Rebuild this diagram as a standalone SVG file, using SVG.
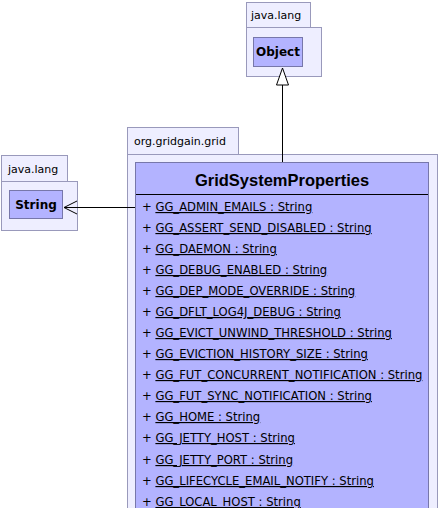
<svg xmlns="http://www.w3.org/2000/svg" width="438" height="508" viewBox="0 0 438 508">
<defs>
<style>
.pkg{fill:#eeeeff;stroke:#9999bb;stroke-width:1}
.cls{fill:#b3b3ff;stroke:#7777aa;stroke-width:1}
.pl{font-family:"DejaVu Sans",sans-serif;font-size:11px;fill:#000}
.cn{font-family:"DejaVu Sans",sans-serif;font-size:12px;font-weight:bold;fill:#000;text-anchor:middle}
.title{font-family:"Liberation Sans",Arial,sans-serif;font-size:16.5px;font-weight:bold;fill:#000;text-anchor:middle}
.attr{font-family:"DejaVu Sans",sans-serif;font-size:11.6px;fill:#000}
.u{text-decoration:underline}
.edge{stroke:#000;stroke-width:1;fill:none}
</style>
</defs>
<g id="pkg-object">
<rect class="pkg" x="246.5" y="2.5" width="64" height="25"/>
<rect class="pkg" x="246.5" y="27.5" width="75" height="49"/>
<text class="pl" x="251" y="19">java.lang</text>
</g>
<g id="Object">
<rect class="cls" x="253.5" y="37.5" width="49" height="29"/>
<text class="cn" x="278" y="56">Object</text>
</g>
<g id="pkg-string">
<rect class="pkg" x="1.5" y="155.5" width="66" height="26"/>
<rect class="pkg" x="1.5" y="181.5" width="76" height="49"/>
<text class="pl" x="8" y="173">java.lang</text>
</g>
<g id="String">
<rect class="cls" x="9.5" y="190.5" width="53" height="28"/>
<text class="cn" x="36" y="209">String</text>
</g>
<g id="pkg-grid">
<rect class="pkg" x="127.5" y="127.5" width="111" height="27"/>
<rect class="pkg" x="127.5" y="154.5" width="310" height="360"/>
<text class="pl" x="134" y="145">org.gridgain.grid</text>
</g>
<g id="GridSystemProperties">
<rect class="cls" x="135.5" y="162.5" width="293" height="360"/>
<text class="title" x="282" y="186">GridSystemProperties</text>
<line x1="136" y1="194.5" x2="428" y2="194.5" stroke="#000" stroke-width="1"/>
<text class="attr" x="142" y="211">+ <tspan class="u">GG_ADMIN_EMAILS : String </tspan></text>
<text class="attr" x="142" y="232">+ <tspan class="u">GG_ASSERT_SEND_DISABLED : String </tspan></text>
<text class="attr" x="142" y="253">+ <tspan class="u">GG_DAEMON : String </tspan></text>
<text class="attr" x="142" y="274">+ <tspan class="u">GG_DEBUG_ENABLED : String </tspan></text>
<text class="attr" x="142" y="295">+ <tspan class="u">GG_DEP_MODE_OVERRIDE : String </tspan></text>
<text class="attr" x="142" y="316">+ <tspan class="u">GG_DFLT_LOG4J_DEBUG : String </tspan></text>
<text class="attr" x="142" y="337">+ <tspan class="u">GG_EVICT_UNWIND_THRESHOLD : String </tspan></text>
<text class="attr" x="142" y="358">+ <tspan class="u">GG_EVICTION_HISTORY_SIZE : String </tspan></text>
<text class="attr" x="142" y="379">+ <tspan class="u">GG_FUT_CONCURRENT_NOTIFICATION : String </tspan></text>
<text class="attr" x="142" y="400">+ <tspan class="u">GG_FUT_SYNC_NOTIFICATION : String </tspan></text>
<text class="attr" x="142" y="421">+ <tspan class="u">GG_HOME : String </tspan></text>
<text class="attr" x="142" y="442">+ <tspan class="u">GG_JETTY_HOST : String </tspan></text>
<text class="attr" x="142" y="464">+ <tspan class="u">GG_JETTY_PORT : String </tspan></text>
<text class="attr" x="142" y="485">+ <tspan class="u">GG_LIFECYCLE_EMAIL_NOTIFY : String </tspan></text>
<text class="attr" x="142" y="506">+ <tspan class="u">GG_LOCAL_HOST : String </tspan></text>
</g>
<g id="connectors">
<path class="edge" d="M282.5 162 V85"/>
<polygon points="282.5,68 276.5,85 288.5,85" fill="#fff" stroke="#000" stroke-width="1"/>
<path class="edge" d="M135 207.5 H64"/>
<path class="edge" d="M77 201 L64 207.5 L77 214"/>
</g>
</svg>
